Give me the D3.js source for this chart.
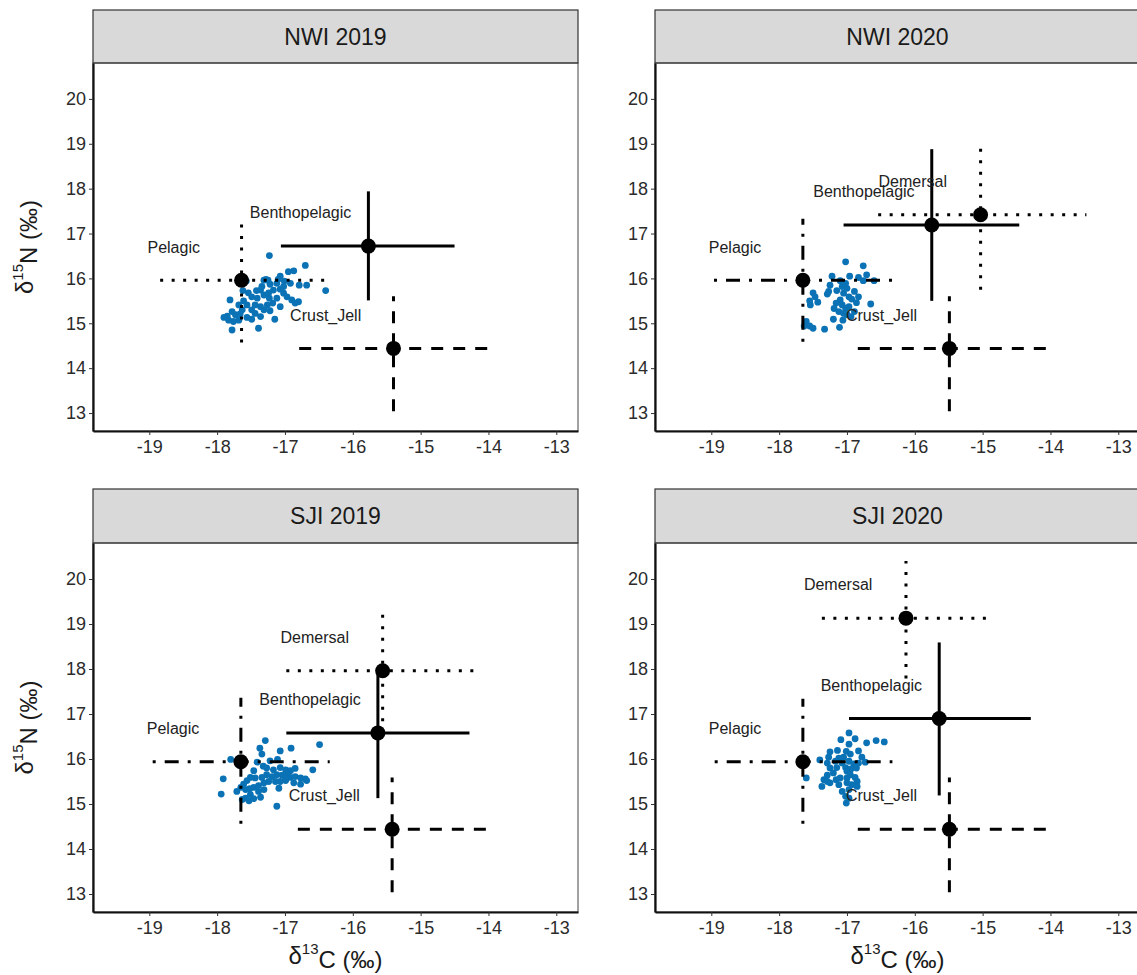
<!DOCTYPE html>
<html>
<head>
<meta charset="utf-8">
<script src="https://cdn.jsdelivr.net/npm/d3@7"></script>
<style>
  body { margin: 0; background: #fff; }
  svg { display: block; font-family: "Liberation Sans", Arial, sans-serif; }
</style>
</head>
<body>
<div id="chart"></div>
<script>
// Panel titles and tick values
const panelTitles = ["NWI 2019", "NWI 2020", "SJI 2019", "SJI 2020"];
const xTicks = [-19, -18, -17, -16, -15, -14, -13];
const yTicks = [13, 14, 15, 16, 17, 18, 19, 20];

// Source means and error-bar extents (d13C, d15N)
const nwi2019Sources = [
    { group: "Benthopelagic", x: -15.77, xmin: -17.06, xmax: -14.50, y: 16.72, ymin: 15.51, ymax: 17.94 },
    { group: "Crust_Jell", x: -15.40, xmin: -16.79, xmax: -13.93, y: 14.44, ymin: 13.04, ymax: 15.60 },
    { group: "Pelagic", x: -17.64, xmin: -18.84, xmax: -16.30, y: 15.96, ymin: 14.57, ymax: 17.20 }
];
const nwi2020Sources = [
    { group: "Benthopelagic", x: -15.75, xmin: -17.05, xmax: -14.46, y: 17.19, ymin: 15.50, ymax: 18.88 },
    { group: "Crust_Jell", x: -15.49, xmin: -16.84, xmax: -14.00, y: 14.44, ymin: 13.04, ymax: 15.60 },
    { group: "Demersal", x: -15.03, xmin: -16.54, xmax: -13.47, y: 17.42, ymin: 15.75, ymax: 18.93 },
    { group: "Pelagic", x: -17.65, xmin: -18.96, xmax: -16.33, y: 15.96, ymin: 14.59, ymax: 17.33 }
];
const sji2019Sources = [
    { group: "Benthopelagic", x: -15.63, xmin: -16.98, xmax: -14.28, y: 16.58, ymin: 15.13, ymax: 17.95 },
    { group: "Crust_Jell", x: -15.42, xmin: -16.81, xmax: -13.97, y: 14.44, ymin: 13.04, ymax: 15.59 },
    { group: "Demersal", x: -15.56, xmin: -16.98, xmax: -14.10, y: 17.96, ymin: 16.84, ymax: 19.26 },
    { group: "Pelagic", x: -17.65, xmin: -18.95, xmax: -16.34, y: 15.94, ymin: 14.56, ymax: 17.36 }
];
const sji2020Sources = [
    { group: "Benthopelagic", x: -15.64, xmin: -16.97, xmax: -14.29, y: 16.90, ymin: 15.19, ymax: 18.59 },
    { group: "Crust_Jell", x: -15.49, xmin: -16.84, xmax: -14.00, y: 14.44, ymin: 13.04, ymax: 15.59 },
    { group: "Demersal", x: -16.13, xmin: -17.37, xmax: -14.85, y: 19.13, ymin: 17.79, ymax: 20.40 },
    { group: "Pelagic", x: -17.65, xmin: -18.95, xmax: -16.33, y: 15.94, ymin: 14.56, ymax: 17.34 }
];

// Consumer isotope values [d13C, d15N]
const nwi2019Consumers = [
    [-17.23, 16.51], [-16.70, 16.29], [-16.87, 16.17], [-16.95, 16.15], [-17.07, 16.05],
    [-17.25, 15.96], [-17.28, 15.98], [-17.31, 15.96], [-17.57, 15.94], [-16.40, 15.73],
    [-16.68, 15.85], [-16.79, 15.85], [-17.01, 15.94], [-17.10, 15.98], [-17.12, 15.89],
    [-17.22, 15.87], [-17.36, 15.74], [-17.42, 15.73], [-17.54, 15.68], [-17.62, 15.73],
    [-17.49, 15.59], [-17.41, 15.56], [-17.31, 15.63], [-17.24, 15.68], [-17.17, 15.74],
    [-17.07, 15.76], [-17.02, 15.67], [-16.97, 15.59], [-16.90, 15.52], [-16.85, 15.45],
    [-16.80, 15.48], [-17.12, 15.56], [-17.18, 15.45], [-17.26, 15.41], [-17.31, 15.30],
    [-17.36, 15.37], [-17.44, 15.41], [-17.49, 15.30], [-17.56, 15.41], [-17.63, 15.30],
    [-17.66, 15.21], [-17.73, 15.19], [-17.78, 15.26], [-17.85, 15.16], [-17.90, 15.13],
    [-17.83, 15.07], [-17.76, 15.04], [-17.68, 15.07], [-17.56, 15.13], [-17.49, 15.09],
    [-17.39, 14.89], [-17.22, 15.28], [-17.15, 15.09], [-17.81, 15.52], [-17.61, 15.50],
    [-17.68, 15.41], [-17.78, 14.85], [-17.02, 15.82], [-16.92, 15.89], [-17.34, 15.82],
    [-17.23, 15.56], [-17.44, 15.22], [-17.07, 15.37], [-17.36, 15.15]
];
const nwi2020Consumers = [
    [-17.02, 16.37], [-16.76, 16.28], [-17.22, 16.05], [-16.96, 16.05], [-16.71, 16.08],
    [-16.83, 16.02], [-16.60, 15.95], [-17.10, 15.95], [-17.25, 15.85], [-17.27, 15.71],
    [-17.29, 15.65], [-17.15, 15.73], [-17.07, 15.82], [-17.02, 15.89], [-17.00, 15.78],
    [-17.05, 15.67], [-16.97, 15.59], [-16.89, 15.71], [-16.93, 15.54], [-16.83, 15.59],
    [-16.86, 15.46], [-17.10, 15.52], [-17.16, 15.45], [-17.19, 15.33], [-17.12, 15.26],
    [-17.07, 15.41], [-17.02, 15.33], [-16.97, 15.37], [-17.00, 15.19], [-17.06, 15.07],
    [-17.11, 14.91], [-17.20, 15.09], [-17.05, 15.22], [-17.50, 15.68], [-17.55, 15.50],
    [-17.47, 15.59], [-17.43, 15.47], [-17.54, 15.41], [-16.65, 15.43], [-17.60, 15.04],
    [-17.63, 14.94], [-17.55, 14.94], [-17.50, 14.89], [-17.33, 14.87], [-16.94, 15.15],
    [-16.89, 15.26], [-16.76, 15.95]
];
const sji2019Consumers = [
    [-17.29, 16.41], [-17.37, 16.24], [-17.07, 16.18], [-16.91, 16.24], [-16.49, 16.32],
    [-17.34, 16.11], [-17.80, 15.99], [-17.41, 15.93], [-17.22, 15.96], [-17.11, 15.99],
    [-17.32, 15.84], [-17.46, 15.74], [-17.27, 15.80], [-17.17, 15.76], [-17.07, 15.81],
    [-16.99, 15.76], [-16.92, 15.74], [-16.85, 15.79], [-16.96, 15.67], [-17.04, 15.64],
    [-17.12, 15.65], [-17.19, 15.61], [-17.27, 15.65], [-17.34, 15.59], [-17.44, 15.58],
    [-17.51, 15.59], [-17.56, 15.52], [-17.61, 15.44], [-17.65, 15.37], [-17.58, 15.32],
    [-17.52, 15.34], [-17.46, 15.37], [-17.39, 15.41], [-17.31, 15.47], [-17.24, 15.50],
    [-17.14, 15.50], [-17.07, 15.50], [-16.99, 15.52], [-16.92, 15.59], [-16.85, 15.61],
    [-16.77, 15.58], [-16.70, 15.56], [-16.59, 15.76], [-16.68, 15.52], [-16.77, 15.44],
    [-16.87, 15.47], [-17.09, 15.35], [-17.31, 15.32], [-17.39, 15.28], [-17.51, 15.21],
    [-17.58, 15.13], [-17.63, 15.10], [-17.53, 15.07], [-17.46, 15.12], [-17.36, 15.15],
    [-17.91, 15.56], [-17.94, 15.22], [-17.12, 14.95], [-17.71, 15.28], [-16.99, 15.58]
];
const sji2020Consumers = [
    [-16.97, 16.58], [-17.09, 16.43], [-16.97, 16.33], [-16.88, 16.45], [-16.71, 16.36],
    [-16.57, 16.41], [-16.45, 16.38], [-17.01, 16.17], [-17.14, 16.19], [-17.25, 16.16],
    [-17.27, 16.04], [-17.12, 16.02], [-17.05, 16.04], [-16.95, 16.11], [-16.83, 16.18],
    [-16.78, 16.04], [-16.73, 15.93], [-17.40, 15.98], [-17.29, 15.91], [-17.17, 15.95],
    [-17.07, 15.91], [-16.97, 15.95], [-16.90, 15.89], [-16.83, 15.91], [-17.25, 15.80],
    [-17.15, 15.81], [-17.02, 15.81], [-16.94, 15.78], [-16.86, 15.80], [-17.00, 15.73],
    [-17.20, 15.69], [-17.29, 15.64], [-17.34, 15.54], [-17.37, 15.39], [-17.25, 15.47],
    [-17.16, 15.54], [-17.10, 15.58], [-17.00, 15.58], [-16.95, 15.65], [-16.88, 15.59],
    [-16.85, 15.50], [-16.93, 15.43], [-17.00, 15.47], [-16.97, 15.32], [-17.07, 15.28],
    [-17.02, 15.17], [-17.01, 15.02], [-17.60, 15.58], [-16.97, 15.13], [-17.29, 15.50],
    [-17.12, 15.43], [-16.85, 15.39]
];

const panelSources = [nwi2019Sources, nwi2020Sources, sji2019Sources, sji2020Sources];
const panelConsumers = [nwi2019Consumers, nwi2020Consumers, sji2019Consumers, sji2020Consumers];

// ggplot-like linetype order: solid, dashed, dotted, dotdash
const dashPatterns = [null, "12,10", "3,8.5", "3,9,14,9"];

// Layout
const width = 1137, height = 975;
const colLeft = [93, 655];
const panelWidth = 485;
const rows = [
    { strip: 10, top: 63, bottom: 431 },
    { strip: 489, top: 543, bottom: 912 }
];
const labelDx = -1.0, labelDy = 0.74;

const svg = d3.select("#chart").append("svg")
    .attr("width", width)
    .attr("height", height);

panelTitles.forEach((title, i) => {
    const col = i % 2;
    const row = rows[Math.floor(i / 2)];
    const left = colLeft[col];

    const x = d3.scaleLinear().domain([-19.83, -12.68]).range([left, left + panelWidth]);
    const y = d3.scaleLinear().domain([12.6, 20.8]).range([row.bottom, row.top]);

    const g = svg.append("g");

    // Strip
    g.append("rect")
        .attr("x", left)
        .attr("y", row.strip)
        .attr("width", panelWidth)
        .attr("height", row.top - row.strip)
        .attr("fill", "#d9d9d9")
        .attr("stroke", "#333")
        .attr("stroke-width", 1.2);

    g.append("text")
        .attr("x", left + panelWidth / 2)
        .attr("y", (row.strip + row.top) / 2)
        .attr("text-anchor", "middle")
        .attr("dominant-baseline", "central")
        .style("font-size", "23px")
        .style("fill", "#1a1a1a")
        .text(title);

    // Panel border
    g.append("rect")
        .attr("x", left)
        .attr("y", row.top)
        .attr("width", panelWidth)
        .attr("height", row.bottom - row.top)
        .attr("fill", "none")
        .attr("stroke", "#444")
        .attr("stroke-width", 1);

    // Axes (plain hyphen minus like the reference)
    const yAxis = g.append("g")
        .attr("transform", `translate(${left},0)`)
        .call(d3.axisLeft(y).tickValues(yTicks).tickFormat(d => String(d))
            .tickSize(4).tickSizeOuter(0).tickPadding(3));
    const xAxis = g.append("g")
        .attr("transform", `translate(0,${row.bottom})`)
        .call(d3.axisBottom(x).tickValues(xTicks).tickFormat(d => String(d))
            .tickSize(4).tickSizeOuter(0).tickPadding(5));

    [xAxis, yAxis].forEach(ax => {
        ax.select(".domain").attr("stroke", "#111").attr("stroke-width", 2.2);
        ax.selectAll(".tick line").attr("stroke", "#333").attr("stroke-width", 1);
        ax.selectAll(".tick text")
            .style("font-size", "18px")
            .style("font-family", "'Liberation Sans', Arial, sans-serif")
            .attr("fill", "#2b2b2b");
    });

    // Consumer points
    g.append("g").selectAll("circle")
        .data(panelConsumers[i])
        .join("circle")
        .attr("cx", d => x(d[0]))
        .attr("cy", d => y(d[1]))
        .attr("r", 3.4)
        .attr("fill", "#0a72b5");

    // Source error bars
    const sources = panelSources[i];
    const bars = g.append("g");
    sources.forEach((s, k) => {
        const dash = dashPatterns[k];
        bars.append("line")
            .attr("x1", x(s.xmin)).attr("x2", x(s.xmax))
            .attr("y1", y(s.y)).attr("y2", y(s.y))
            .attr("stroke", "#000")
            .attr("stroke-width", 3)
            .attr("stroke-dasharray", dash);
        bars.append("line")
            .attr("x1", x(s.x)).attr("x2", x(s.x))
            .attr("y1", y(s.ymin)).attr("y2", y(s.ymax))
            .attr("stroke", "#000")
            .attr("stroke-width", 3)
            .attr("stroke-dasharray", dash);
    });

    // Source means
    g.append("g").selectAll("circle")
        .data(sources)
        .join("circle")
        .attr("cx", d => x(d.x))
        .attr("cy", d => y(d.y))
        .attr("r", 7.5)
        .attr("fill", "#000");

    // Source labels
    g.append("g").selectAll("text")
        .data(sources)
        .join("text")
        .attr("x", d => x(d.x + labelDx))
        .attr("y", d => y(d.y + labelDy))
        .attr("text-anchor", "middle")
        .attr("dominant-baseline", "central")
        .style("font-size", "16px")
        .style("fill", "#222")
        .text(d => d.group);

    // Axis titles
    if (col === 0) {
        const yt = svg.append("text")
            .attr("transform", `translate(24,${(row.top + row.bottom) / 2}) rotate(-90)`)
            .attr("text-anchor", "middle")
            .attr("dominant-baseline", "central")
            .style("font-size", "24px")
            .style("fill", "#1a1a1a");
        yt.append("tspan").text("δ");
        yt.append("tspan").attr("dy", "-0.45em").style("font-size", "15px").text("15");
        yt.append("tspan").attr("dy", "0.45em").text("N (‰)");
    }
    if (Math.floor(i / 2) === 1) {
        const xt = svg.append("text")
            .attr("x", left + panelWidth / 2)
            .attr("y", 955)
            .attr("text-anchor", "middle")
            .attr("dominant-baseline", "central")
            .style("font-size", "24px")
            .style("fill", "#1a1a1a");
        xt.append("tspan").text("δ");
        xt.append("tspan").attr("dy", "-0.45em").style("font-size", "15px").text("13");
        xt.append("tspan").attr("dy", "0.45em").text("C (‰)");
    }
});
</script>
</body>
</html>
